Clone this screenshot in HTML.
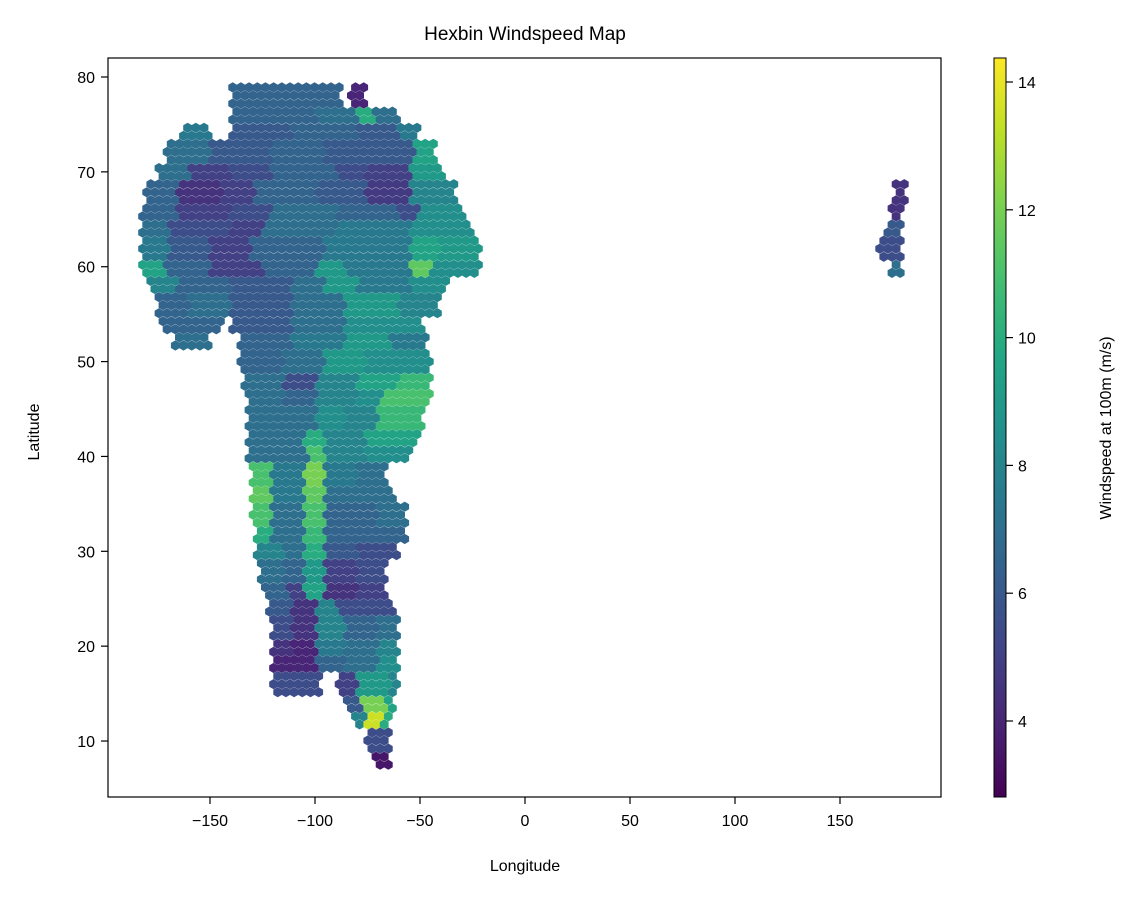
<!DOCTYPE html>
<html><head><meta charset="utf-8"><style>
body{margin:0;background:#fff}
svg text{font-family:"Liberation Sans","DejaVu Sans",sans-serif;fill:#000}
</style></head><body>
<svg id="chart" width="1139" height="898" viewBox="0 0 1139 898" xmlns="http://www.w3.org/2000/svg">
<defs>
<linearGradient id="vir" x1="0" y1="1" x2="0" y2="0">
<stop offset="0" stop-color="#440154"/><stop offset="0.1" stop-color="#482475"/><stop offset="0.2" stop-color="#414487"/><stop offset="0.3" stop-color="#355f8d"/><stop offset="0.4" stop-color="#2a788e"/><stop offset="0.5" stop-color="#21918c"/><stop offset="0.6" stop-color="#22a884"/><stop offset="0.7" stop-color="#44bf70"/><stop offset="0.8" stop-color="#7ad151"/><stop offset="0.9" stop-color="#bddf26"/><stop offset="1" stop-color="#fde725"/>
</linearGradient>
</defs>
<text x="525" y="40" font-size="19" text-anchor="middle">Hexbin Windspeed Map</text>
<g id="hexes"></g>
<rect x="108" y="58" width="833" height="739" fill="none" stroke="#000" stroke-width="1.2"/>
<g id="xticks"></g>
<g id="yticks"></g>
<text x="525" y="871" font-size="16" text-anchor="middle">Longitude</text>
<text x="0" y="0" font-size="16" text-anchor="middle" transform="translate(39,432) rotate(-90)">Latitude</text>
<rect x="994" y="58" width="12" height="739" fill="url(#vir)" stroke="#000" stroke-width="1"/>
<g id="cticks"></g>
<text x="0" y="0" font-size="16" text-anchor="middle" transform="translate(1111,428) rotate(-90)">Windspeed at 100m (m/s)</text>
</svg>
<script>
const xTicks=[-150,-100,-50,0,50,100,150];
const yTicks=[10,20,30,40,50,60,70,80];
const cTicks=[4,6,8,10,12,14];
const rowLats=[78,76,74,72,70,68,66,64,62,60,58,56,54,52,50,48,46,44,42,40,38,36,34,32,30,28,26,24,22,20,18,16,14,12,10,8];
const rowSegs=[
[[-140,-88,6.5],[-84,-76,4]],
[[-140,-100,6.5],[-100,-80,7],[-80,-72,10],[-72,-60,7]],
[[-163,-150,7.5],[-140,-110,6],[-110,-80,6.5],[-80,-60,6],[-60,-50,7.5]],
[[-171,-150,7],[-150,-120,6],[-120,-95,6.5],[-95,-70,6],[-70,-52,6],[-52,-43,9.5]],
[[-176,-160,7],[-160,-140,5],[-140,-120,5.5],[-120,-90,6.5],[-90,-75,5.5],[-75,-55,5],[-55,-38,9]],
[[-182,-165,6.5],[-165,-145,4.5],[-145,-128,5],[-128,-100,6.5],[-100,-75,6],[-75,-55,4.8],[-55,-33,8]],
[[-183,-165,6.5],[-165,-140,5],[-140,-120,5.5],[-120,-90,7],[-90,-60,6.5],[-60,-50,5.5],[-50,-29,8.5]],
[[-183,-170,7],[-170,-140,5.5],[-140,-125,5],[-125,-90,7],[-90,-55,7.5],[-55,-26,8.5]],
[[-183,-170,7.5],[-170,-150,6],[-150,-130,5],[-130,-95,6.5],[-95,-75,7.5],[-75,-55,7.5],[-55,-40,9.5],[-40,-21,9]],
[[-183,-172,9.5],[-172,-150,6.5],[-150,-125,5],[-125,-100,6.5],[-100,-85,9],[-85,-55,7.5],[-55,-45,11.5],[-45,-22,8.5]],
[[-180,-165,8],[-165,-140,6.5],[-140,-110,6],[-110,-95,7],[-95,-80,9],[-80,-55,7.5],[-55,-36,8.5]],
[[-176,-160,6.5],[-160,-140,7],[-140,-110,6],[-110,-85,7],[-85,-60,9],[-60,-40,8]],
[[-174,-145,6.5],[-140,-110,6],[-110,-85,7],[-85,-48,8.5]],
[[-167,-150,7],[-136,-110,6.5],[-110,-85,7.5],[-85,-65,9],[-65,-46,7.5]],
[[-136,-115,6.5],[-115,-95,7],[-95,-75,9],[-75,-45,8.5]],
[[-134,-115,7],[-115,-100,5.5],[-100,-80,8],[-80,-60,9.5],[-60,-45,10.5]],
[[-133,-115,7],[-115,-100,6.5],[-100,-80,8],[-80,-68,8.5],[-68,-45,11]],
[[-133,-115,7],[-115,-100,7],[-100,-85,8.5],[-85,-70,8],[-70,-48,10.5]],
[[-133,-120,7],[-120,-105,7],[-105,-95,10],[-95,-75,8],[-75,-50,9.5]],
[[-133,-115,7],[-115,-103,7],[-103,-95,11],[-95,-75,8],[-75,-55,8.5]],
[[-131,-120,11],[-120,-105,7.5],[-105,-95,12],[-95,-80,7.5],[-80,-67,7]],
[[-131,-120,11.5],[-120,-105,7.5],[-105,-95,11.5],[-95,-75,7],[-75,-62,7]],
[[-130,-120,11],[-120,-105,7],[-105,-95,11],[-95,-70,6.5],[-70,-57,7]],
[[-129,-120,10],[-120,-105,7],[-105,-95,10.5],[-95,-75,6.5],[-75,-57,6.5]],
[[-128,-115,8],[-115,-105,7],[-105,-95,10],[-95,-80,6],[-80,-60,5.5]],
[[-126,-115,7],[-115,-105,6.5],[-105,-95,9],[-95,-80,5],[-80,-67,5.5]],
[[-124,-112,6.5],[-112,-105,5],[-105,-95,9.5],[-95,-80,4.5],[-80,-67,5]],
[[-122,-110,6],[-110,-100,4.5],[-100,-90,8],[-90,-75,5.5],[-75,-63,5.5]],
[[-121,-110,5.5],[-110,-100,4.5],[-100,-85,8],[-85,-70,6.5],[-70,-60,7]],
[[-121,-110,4.5],[-110,-100,4],[-100,-85,7.5],[-85,-70,7],[-70,-60,8]],
[[-121,-110,4],[-110,-100,4],[-100,-85,6.5],[-85,-70,7],[-70,-60,8.5]],
[[-121,-98,5.5],[-90,-80,5],[-80,-65,9],[-65,-60,8]],
[[-86,-78,6],[-78,-66,12],[-66,-62,9.5]],
[[-81,-76,8],[-76,-68,13.5],[-68,-64,10]],
[[-76,-64,5.5]],
[[-71,-65,3.5]]
];
const asiaLats=[68,66,64,62,60];
const asiaSegs=[[[176,182,4.5]],[[174,180,4.5]],[[172,180,6]],[[168,180,5.5]],[[174,180,7]]];

const X=v=>525+v*2.1;
const Y=v=>77+(80-v)*9.486;
const C=v=>721-(v-4)*63.9;
const NS="http://www.w3.org/2000/svg";
const stops=["#440154","#482475","#414487","#355f8d","#2a788e","#21918c","#22a884","#44bf70","#7ad151","#bddf26","#fde725"];
function hx(h){return [1,3,5].map(i=>parseInt(h.substr(i,2),16));}
function cmap(v){let t=(v-2.8)/(14.38-2.8);t=Math.max(0,Math.min(1,t))*10;const i=Math.min(9,Math.floor(t)),f=t-i;const a=hx(stops[i]),b=hx(stops[i+1]);return "rgb("+a.map((c,k)=>Math.round(c+(b[k]-c)*f)).join(",")+")";}
function lookup(lats,segs,lon,lat){let best=-1,bd=1e9;lats.forEach((l,i)=>{const d=Math.abs(l-lat);if(d<bd){bd=d;best=i;}});if(bd>1.01)return null;for(const s of segs[best]){if(lon>=s[0]-0.01&&lon<=s[1]+0.01)return s[2];}return null;}
const g=document.getElementById("hexes");
const dl=3.9,dy=0.85,r=5.1;
let row=0;
for(let lat=7.5;lat<=79;lat+=dy,row++){
  for(let lon=-186+(row%2?dl/2:0);lon<=186;lon+=dl){
    let v=lon<0?lookup(rowLats,rowSegs,lon,lat):lookup(asiaLats,asiaSegs,lon,lat);
    if(v===null)continue;
    const cx=X(lon),cy=Y(lat);
    let pts=[];for(let k=0;k<6;k++){const a=Math.PI/3*k+Math.PI/6;pts.push((cx+r*Math.cos(a)).toFixed(1)+","+(cy+r*Math.sin(a)).toFixed(1));}
    const p=document.createElementNS(NS,"polygon");
    p.setAttribute("points",pts.join(" "));
    p.setAttribute("fill",cmap(v));
    
    
    g.appendChild(p);
  }
}
function tick(parent,x1,y1,x2,y2,tx,ty,label,anchor){
  const l=document.createElementNS(NS,"line");
  l.setAttribute("x1",x1);l.setAttribute("y1",y1);l.setAttribute("x2",x2);l.setAttribute("y2",y2);l.setAttribute("stroke","#000");l.setAttribute("stroke-width","1.2");
  
  
  parent.appendChild(l);
  const t=document.createElementNS(NS,"text");
  t.setAttribute("x",tx);t.setAttribute("y",ty);t.setAttribute("font-size","16");t.setAttribute("text-anchor",anchor);
  t.textContent=label;
  
  
  parent.appendChild(t);
}
const gx=document.getElementById("xticks");
xTicks.forEach(v=>tick(gx,X(v),797,X(v),804,X(v),826,String(v).replace("-","\u2212"),"middle"));
const gy=document.getElementById("yticks");
yTicks.forEach(v=>tick(gy,101,Y(v),108,Y(v),95,Y(v)+6,String(v),"end"));
const gc=document.getElementById("cticks");
cTicks.forEach(v=>tick(gc,1006,C(v),1013,C(v),1018,C(v)+6,String(v),"start"));
</script>
</body></html>
